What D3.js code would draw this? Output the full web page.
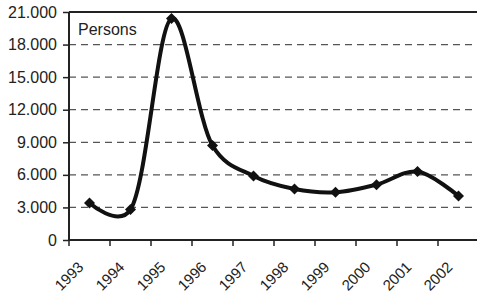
<!DOCTYPE html>
<html>
<head>
<meta charset="utf-8">
<script src="https://cdn.jsdelivr.net/npm/d3@7"></script>
<style>
html, body { margin: 0; padding: 0; background: #fff; }
svg { display: block; }
text { font-family: "Liberation Sans", Arial, sans-serif; fill: #222; }
</style>
</head>
<body>
<svg id="chart" width="477" height="296"></svg>
<script>
const years = ["1993","1994","1995","1996","1997","1998","1999","2000","2001","2002"];
const persons = [3400, 2800, 20400, 8700, 5900, 4700, 4400, 5100, 6300, 4050];
const yTicks = [0, 3000, 6000, 9000, 12000, 15000, 18000, 21000];
const unitLabel = "Persons";

(function () {
const svg = d3.select("#chart");
const pLeft = 69, pRight = 479, pTop = 12, pBottom = 240;

const x = d3.scaleBand().domain(years).range([pLeft, pRight]);
const y = d3.scaleLinear().domain([0, 21000]).range([pBottom, pTop]);

const loc = d3.formatLocale({decimal: ",", thousands: ".", grouping: [3], currency: ["", ""]});
const fmt = loc.format(",");

// gridlines
svg.append("g").selectAll("line")
  .data(yTicks.filter(d => d > 0 && d < 21000))
  .join("line")
  .attr("x1", pLeft).attr("x2", 477)
  .attr("y1", d => y(d)).attr("y2", d => y(d))
  .attr("stroke", "#555").attr("stroke-width", 1.2)
  .attr("stroke-dasharray", "7,5");

// top border
svg.append("line").attr("x1", pLeft).attr("x2", 477)
  .attr("y1", y(21000)).attr("y2", y(21000))
  .attr("stroke", "#222").attr("stroke-width", 2);

// y axis
const yAxis = d3.axisLeft(y).tickValues(yTicks).tickFormat(fmt).tickSize(6).tickPadding(6);
const gy = svg.append("g").attr("transform", `translate(${pLeft},0)`).call(yAxis);
gy.select(".domain").attr("stroke", "#222").attr("stroke-width", 2).attr("d", `M0,${y(21000)}V${pBottom}`);
gy.selectAll(".tick line").attr("stroke", "#222").attr("stroke-width", 1.5);
gy.selectAll(".tick text").attr("font-size", 16).attr("fill", "#222")
  .attr("font-family", "Liberation Sans, Arial, sans-serif");

// x axis
const xAxis = d3.axisBottom(x).tickSize(0).tickFormat("");
const gx = svg.append("g").attr("transform", `translate(0,${pBottom})`).call(xAxis);
gx.select(".domain").attr("stroke", "#222").attr("stroke-width", 2).attr("d", `M${pLeft},0H477`);
gx.selectAll(".tick").remove();
gx.selectAll("line.bt").data(years).join("line").attr("class", "bt")
  .attr("x1", d => x(d)).attr("x2", d => x(d)).attr("y1", 0).attr("y2", 6)
  .attr("stroke", "#222").attr("stroke-width", 1.5);
gx.selectAll("text.lbl").data(years).join("text").attr("class", "lbl")
  .attr("transform", d => `translate(${x(d) + x.bandwidth()/2 - 5},28) rotate(-45)`)
  .attr("text-anchor", "end")
  .attr("font-size", 15)
  .text(d => d);

// line
const line = d3.line()
  .x((d, i) => x(years[i]) + x.bandwidth()/2)
  .y(d => y(d))
  .curve(d3.curveCatmullRom.alpha(0.2));
svg.append("path").datum(persons)
  .attr("d", line)
  .attr("fill", "none").attr("stroke", "#111").attr("stroke-width", 4)
  .attr("stroke-linejoin", "round");

// markers
const h = 5.5;
svg.append("g").selectAll("path").data(persons).join("path")
  .attr("transform", (d, i) => `translate(${x(years[i]) + x.bandwidth()/2},${y(d)})`)
  .attr("d", `M0,${-h}L${h},0L0,${h}L${-h},0Z`)
  .attr("fill", "#111");

svg.append("text").attr("x", 78).attr("y", 35).attr("font-size", 16).text(unitLabel);
})();
</script>
</body>
</html>
